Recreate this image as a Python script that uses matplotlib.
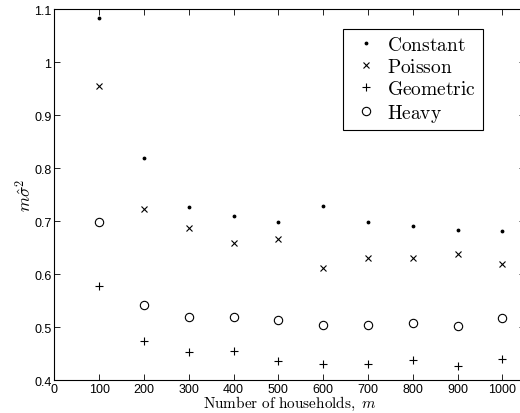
import numpy as np
import matplotlib
matplotlib.use("Agg")
import matplotlib.pyplot as plt

plt.rcParams['mathtext.fontset'] = 'cm'
plt.rcParams['font.family'] = ['Liberation Sans', 'DejaVu Sans']

# number of households
m = [100, 200, 300, 400, 500, 600, 700, 800, 900, 1000]

# scaled variance estimates per household size distribution
constant = [1.083, 0.818, 0.726, 0.710, 0.699, 0.729, 0.698, 0.691, 0.684, 0.682]
poisson = [0.955, 0.723, 0.686, 0.658, 0.667, 0.612, 0.630, 0.630, 0.638, 0.618]
geometric = [0.577, 0.474, 0.453, 0.455, 0.436, 0.431, 0.431, 0.438, 0.427, 0.440]
heavy = [0.699, 0.541, 0.519, 0.518, 0.514, 0.504, 0.503, 0.508, 0.502, 0.517]

xticks = [0, 100, 200, 300, 400, 500, 600, 700, 800, 900, 1000]
yticks = [0.4, 0.5, 0.6, 0.7, 0.8, 0.9, 1.0, 1.1]
ytick_labels = ['0.4', '0.5', '0.6', '0.7', '0.8', '0.9', '1', '1.1']

fig = plt.figure(figsize=(5.2, 4.14), dpi=100)
ax = fig.add_axes([0.1044, 0.0797, 0.905, 0.896])

ax.plot(m, constant, linestyle='none', marker='.', markersize=3.5, color='k',
        label=r'$\mathrm{Constant}$')
ax.plot(m, poisson, linestyle='none', marker='x', markersize=4.5, mew=0.8, color='k',
        label=r'$\mathrm{Poisson}$')
ax.plot(m, geometric, linestyle='none', marker='+', markersize=6, mew=0.8, color='k',
        label=r'$\mathrm{Geometric}$')
ax.plot(m, heavy, linestyle='none', marker='o', markersize=6, mew=0.8, mfc='none',
        color='k', label=r'$\mathrm{Heavy}$')

ax.set_xlim(0, 1050)
ax.set_ylim(0.4, 1.1)
ax.set_xticks(xticks)
ax.set_xticklabels([str(t) for t in xticks])
ax.set_yticks(yticks)
ax.set_yticklabels(ytick_labels)
ax.tick_params(direction='in', top=True, right=True, length=4, width=0.6,
               labelsize=9, pad=2)
for s in ax.spines.values():
    s.set_linewidth(0.8)

ax.set_xlabel(r'$\mathrm{Number\ of\ households,}\ m$', fontsize=11, labelpad=-1)
ax.set_ylabel(r'$m\hat{\sigma}^2$', fontsize=12.5, labelpad=0)

leg = ax.legend(loc='upper right', bbox_to_anchor=(0.911, 0.946), fontsize=14,
                fancybox=False, edgecolor='k', framealpha=1, borderpad=0.35,
                labelspacing=0.2, handletextpad=0.3, handlelength=1.6,
                borderaxespad=0)
leg.get_frame().set_linewidth(0.8)

fig.savefig('out.png', dpi=100)
